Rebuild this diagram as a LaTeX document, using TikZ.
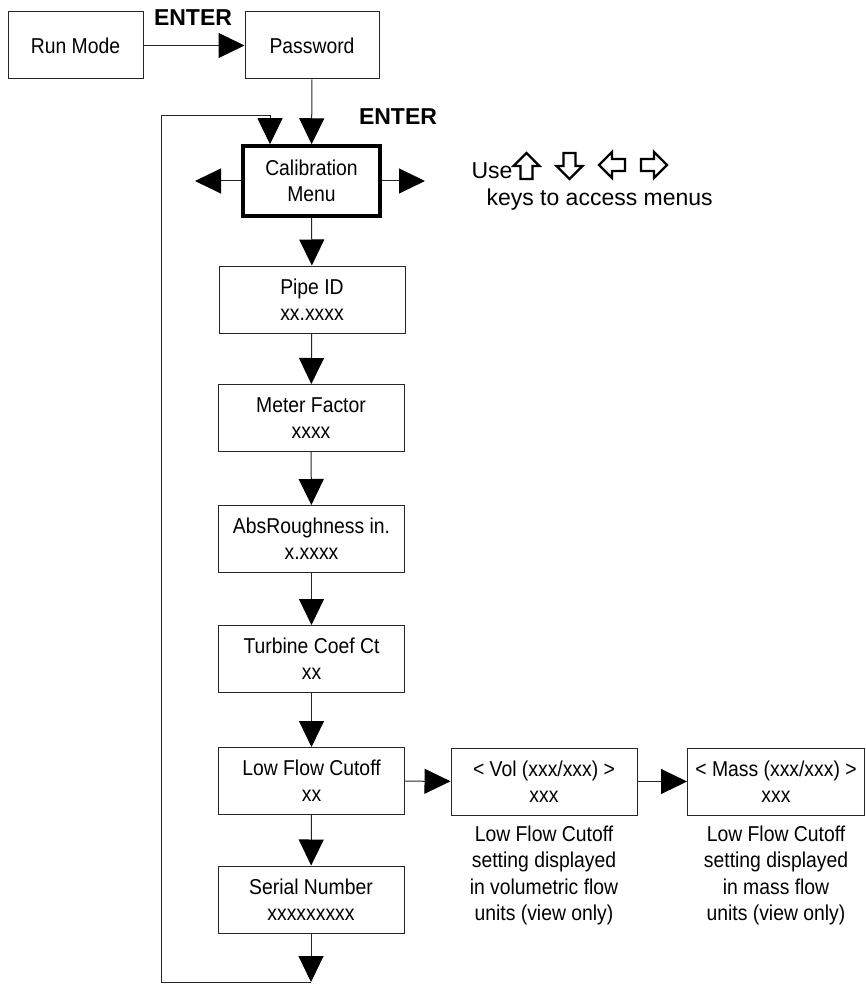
\documentclass[tikz,border=0pt]{standalone}
\usepackage{fontspec}
\setmainfont{Liberation Sans}
\newfontfamily\narrowfont[FakeStretch=0.9]{Liberation Sans}
\usetikzlibrary{arrows.meta,positioning}

\newcommand{\boxfont}{\narrowfont\fontsize{21.5}{26.3}\selectfont}
\newcommand{\bigfont}{\fontsize{23}{27}\selectfont}

\tikzset{
    menu/.style={draw=black!85, line width=1pt, fill=white, minimum width=186pt,
        minimum height=67pt, inner sep=0pt, align=center, font=\boxfont},
    note/.style={inner sep=0pt, align=center, font=\boxfont},
    enter/.style={inner sep=0pt, font=\bigfont\bfseries},
    flow/.style={-{Triangle[length=26pt,width=25pt,color=black]}},
    keyarrow/.pic={
        \draw[line width=2.2pt, draw=black, line join=miter]
            (0,-13) -- (13,0) -- (6,0) -- (6,13) -- (-6,13) -- (-6,0) -- (-13,0) -- cycle;
    }
}

\begin{document}
\begin{tikzpicture}[x=1pt, y=-1pt, line width=1pt, draw=black!85]
    \useasboundingbox (0,0) rectangle (866,984);

    \node[menu, minimum width=135pt] (run) at (75.5,45.5) {Run Mode};
    \node[menu, minimum width=134pt] (pass) at (312,45.5) {Password};
    \draw (run) edge[flow] (pass);
    \node[enter] (enter1) at (193,18) {ENTER};

    \node[menu, minimum width=137pt, minimum height=70pt, line width=3.5pt, draw=black] (calib) at (311.5,181) {Calibration\\Menu};
    \draw (pass) edge[flow] (calib);
    \node[enter] (enter2) at (398,117) {ENTER};

    \coordinate (goleft) at (195,181);
    \coordinate (goright) at (425,181);
    \draw (calib) edge[flow] (goleft);
    \draw (calib) edge[flow] (goright);

    \node[anchor=base west, inner sep=0pt, font=\bigfont] (use) at (471,179) {Use};
    \pic at (526.5,166) {keyarrow};
    \pic[rotate=180] at (569.5,166) {keyarrow};
    \pic[rotate=90] at (612,165) {keyarrow};
    \pic[rotate=-90] at (654,165) {keyarrow};
    \node[anchor=base west, inner sep=0pt, font=\bigfont] (keys) at (486,206) {keys to access menus};

    \node[menu] (pipe) at (312,299.5) {Pipe ID\\xx.xxxx};
    \node[menu] (meter) at (311,418) {Meter Factor\\xxxx};
    \node[menu] (rough) at (311.5,539) {AbsRoughness in.\\x.xxxx};
    \node[menu] (turb) at (311.5,659) {Turbine Coef Ct\\xx};
    \node[menu] (cutoff) at (311.5,781) {Low Flow Cutoff\\xx};
    \node[menu] (serial) at (311,899.5) {Serial Number\\xxxxxxxxx};
    \draw (calib) edge[flow] (pipe);
    \draw (pipe) edge[flow] (meter);
    \draw (meter) edge[flow] (rough);
    \draw (rough) edge[flow] (turb);
    \draw (turb) edge[flow] (cutoff);
    \draw (cutoff) edge[flow] (serial);

    \node[menu] (vol) at (544,781.5) {< Vol (xxx/xxx) >\\xxx};
    \node[menu, minimum width=177pt] (mass) at (776,781.5) {< Mass (xxx/xxx) >\\xxx};
    \draw (cutoff) edge[flow] (vol);
    \draw (vol) edge[flow] (mass);
    \node[note, below=10pt of vol] (volnote) {Low Flow Cutoff\\setting displayed\\in volumetric flow\\units (view only)};
    \node[note, below=10pt of mass] (massnote) {Low Flow Cutoff\\setting displayed\\in mass flow\\units (view only)};

    % back to the top of the menu
    \coordinate (loopend) at (311,982);
    \draw (serial) edge[flow] (loopend);
    \draw[flow] (loopend) -| (161,116) -| ([xshift=-41.5pt]calib.north);
\end{tikzpicture}
\end{document}
